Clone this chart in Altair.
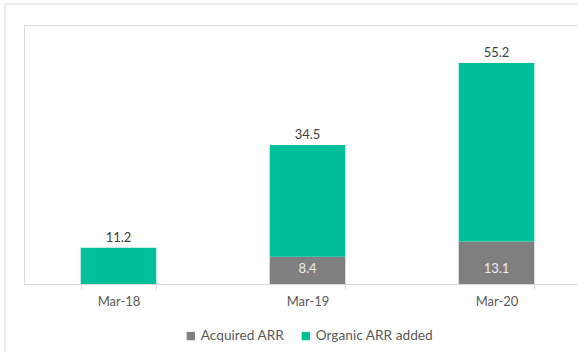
import altair as alt
import pandas as pd

categories = ["Mar-18", "Mar-19", "Mar-20"]
acquired = [0.0, 8.4, 13.1]
organic = [11.2, 34.5, 55.2]
series = ["Acquired ARR", "Organic ARR added"]
colors = ["#7f7f7f", "#00bf9a"]

rows = []
for c, a, o in zip(categories, acquired, organic):
    rows.append({"cat": c, "series": series[0], "value": a, "idx": 0})
    rows.append({"cat": c, "series": series[1], "value": o, "idx": 1})
df = pd.DataFrame(rows)

tot = pd.DataFrame({
    "cat": categories,
    "total": [a + o for a, o in zip(acquired, organic)],
    "label": [f"{o:.1f}" for o in organic],
})
acq = pd.DataFrame({"cat": categories, "acq": acquired,
                    "label": [f"{a:.1f}" for a in acquired]})
acq = acq[acq["acq"] > 0]

FONT = "Lato"
TXT = "#595959"

xaxis = alt.Axis(labelAngle=0, labelFont=FONT, labelFontSize=13, labelColor=TXT,
                 domainColor="#d9d9d9", tickColor="#d9d9d9", tickSize=5,
                 tickBand="extent", labelPadding=6, grid=False)
xscale = alt.Scale(paddingInner=0.6, paddingOuter=0.3, range=[0, 567])
x = alt.X("cat:N", sort=categories, title=None, scale=xscale, axis=xaxis)
yscale = alt.Scale(domain=[0, 80], nice=False)

bars = alt.Chart(df).mark_bar().encode(
    x=x,
    y=alt.Y("value:Q", stack="zero", scale=yscale, axis=None),
    color=alt.Color("series:N", scale=alt.Scale(domain=series, range=colors),
                    legend=alt.Legend(title=None, orient="none", direction="horizontal",
                                      legendX=160, legendY=304,
                                      symbolType="square", symbolSize=70,
                                      symbolStrokeWidth=0, labelFont=FONT,
                                      labelFontSize=13.7, labelColor=TXT,
                                      columnPadding=14, symbolOffset=0,
                                      labelOffset=3)),
    order=alt.Order("idx:Q"),
)

toplabels = alt.Chart(tot).mark_text(font=FONT, fontSize=13, color="#404040",
                                     baseline="bottom", dy=-3).encode(
    x=x,
    y=alt.Y("total:Q", scale=yscale, axis=None),
    text="label:N",
)

inlabels = alt.Chart(acq).mark_text(font=FONT, fontSize=13, color="#eeeeee",
                                    baseline="middle", dy=-15).encode(
    x=x,
    y=alt.Y("zero:Q", scale=yscale, axis=None),
    text="label:N",
).transform_calculate(zero="0")

frame = pd.DataFrame({"a": [0]})
border_top = alt.Chart(frame).mark_rule(color="#d9d9d9", strokeWidth=1).encode(
    x=alt.value(-19), x2=alt.value(700), y=alt.value(-21))
border_left = alt.Chart(frame).mark_rule(color="#d9d9d9", strokeWidth=1).encode(
    x=alt.value(-19), y=alt.value(-21), y2=alt.value(400))

chart = alt.layer(bars, border_top, border_left, toplabels, inlabels).properties(
    width=554, height=259,
    autosize=alt.AutoSizeParams(type="none"),
    padding={"left": 24, "top": 25, "right": 0, "bottom": 68},
).configure_view(stroke="transparent", strokeOpacity=0).configure(background="white")

chart.save("out.html", embed_options={"renderer": "svg", "actions": False})
